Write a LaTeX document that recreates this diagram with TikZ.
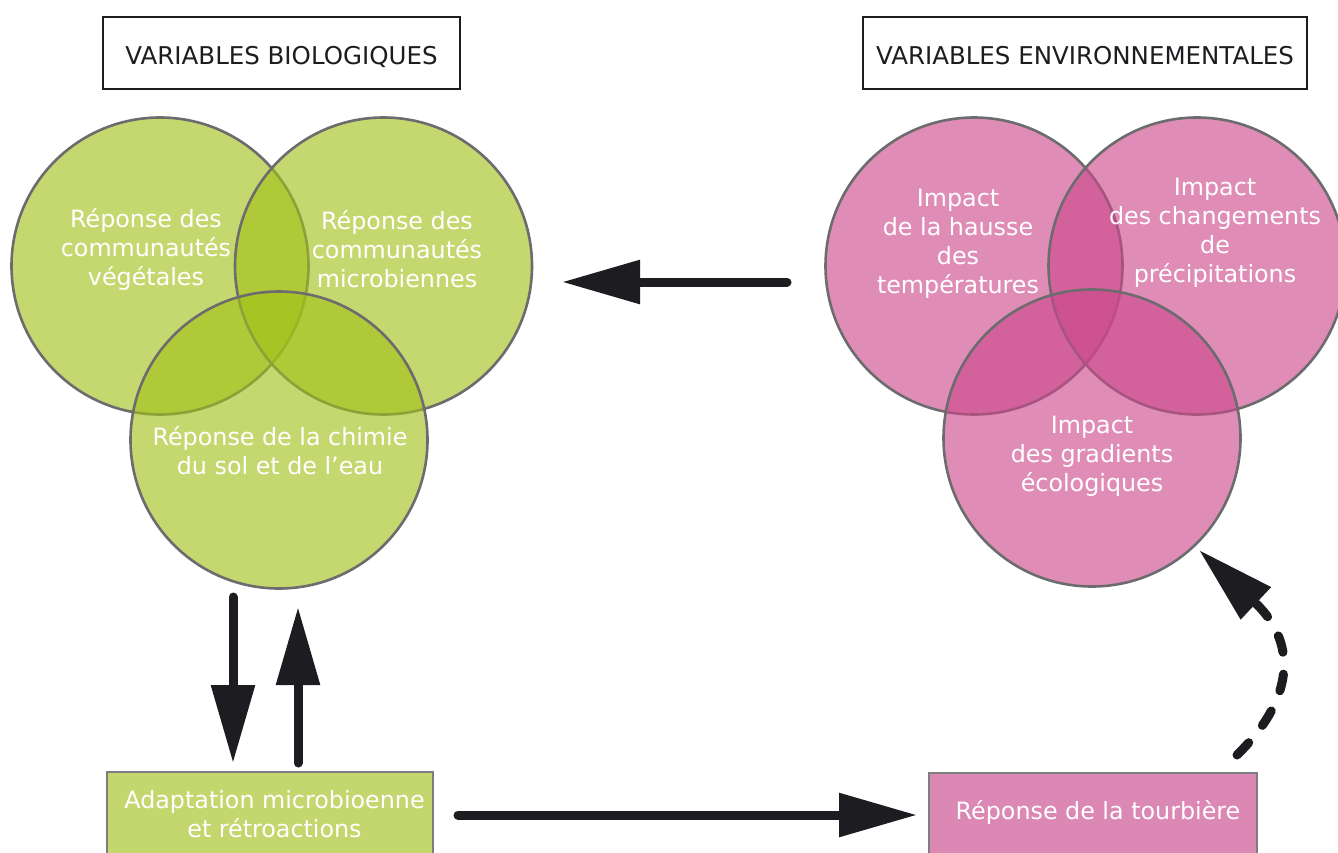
\documentclass[tikz,border=0pt]{standalone}
\usepackage{fontspec}
\setmainfont{DejaVu Sans}
\usetikzlibrary{arrows.meta}
\definecolor{gfill}{RGB}{163,193,24}
\definecolor{pfill}{RGB}{204,72,140}
\definecolor{gbox}{RGB}{196,214,110}
\definecolor{pbox}{RGB}{220,136,180}
\definecolor{ring}{RGB}{108,108,110}
\definecolor{boxline}{RGB}{125,126,128}
\definecolor{ink}{RGB}{29,28,32}
\begin{document}
\begin{tikzpicture}[x=1pt,y=-1pt,
  venng/.style={circle, inner sep=0pt, minimum size=297pt, draw=ring, line width=2.6pt, fill=gfill, fill opacity=0.62},
  vennp/.style={circle, inner sep=0pt, minimum size=297pt, draw=ring, line width=2.6pt, fill=pfill, fill opacity=0.62},
  lbl/.style={text=white, font=\fontsize{23.8}{29}\selectfont, align=center, inner sep=0pt},
  titlebox/.style={draw=ink, line width=2.4pt, minimum height=72pt, inner sep=0pt, text height=22pt, text depth=0pt, text=ink, font=\fontsize{24.5}{29}\selectfont},
  bottombox/.style={draw=boxline, line width=2.4pt, minimum height=140pt, inner sep=0pt},
  arr/.style={draw=ink, line width=9pt, line cap=round, -{Triangle[length=78pt,width=42pt]}},
  dasharr/.style={arr, dash pattern=on 17pt off 22pt},
]
\useasboundingbox (0,0) rectangle (1338,852);
\clip (0,0) rectangle (1338,852);
\fill[white] (0,0) rectangle (1338,852);

% titles
\node[titlebox, minimum width=357pt] (tbio) at (281.5,53) {VARIABLES BIOLOGIQUES};
\node[titlebox, minimum width=444pt] (tenv) at (1085,53) {VARIABLES ENVIRONNEMENTALES};

% green venn
\node[venng] (vA) at (160,266) {};
\node[venng] (vB) at (383.5,266) {};
\node[venng] (vC) at (279,440) {};
\node[lbl] (tA) at (146,249) {Réponse des\\communautés\\végétales};
\node[lbl] (tB) at (397,249) {Réponse des\\communautés\\microbiennes};
\node[lbl] (tC) at (280,451) {Réponse de la chimie\\du sol et de l’eau};

% pink venn
\node[vennp] (vD) at (974,266) {};
\node[vennp] (vE) at (1197,266) {};
\node[vennp] (vF) at (1092,438) {};
\node[lbl] (tD) at (958,244) {Impact\\de la hausse\\des\\températures};
\node[lbl] (tE) at (1215,233) {Impact\\des changements\\de\\précipitations};
\node[lbl] (tF) at (1092,456) {Impact\\des gradients\\écologiques};

% bottom boxes
\node[bottombox, fill=gbox, minimum width=326pt] (bG) at (270,842) {};
\node[bottombox, fill=pbox, minimum width=328pt] (bP) at (1093,843) {};
\node[lbl] (tG) at (274.5,814) {Adaptation microbioenne\\et rétroactions};
\node[lbl] (tP) at (1098,812) {Réponse de la tourbière};

% connector ends
\coordinate (envout) at (787,282);
\coordinate (bioin) at (562,282);
\coordinate (downs) at (233,597);
\coordinate (downe) at (233,763);
\coordinate (ups) at (298,763);
\coordinate (upe) at (298,607);
\coordinate (hs) at (458,815);
\coordinate (he) at (917,815);
\coordinate (ds) at (1237,755);
\coordinate (de) at (1199,550);

\draw[arr] (envout) -- (bioin);
\draw[arr] (downs) -- (downe);
\draw[arr] (ups) -- (upe);
\draw[arr] (hs) -- (he);
\draw[dasharr] (ds) .. controls (1298,695) and (1295,640) .. (de);
\end{tikzpicture}
\end{document}
